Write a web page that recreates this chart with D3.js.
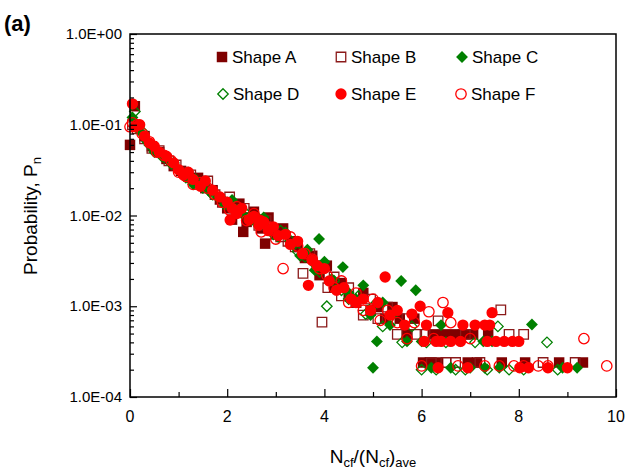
<!DOCTYPE html>
<html><head><meta charset="utf-8">
<script src="https://cdn.jsdelivr.net/npm/d3@7"></script>
<style>body{margin:0;background:#fff}svg{display:block}text{font-family:"Liberation Sans",Arial,sans-serif}</style>
</head><body><svg id="c" width="625" height="471"></svg>
<script>
// ---- data: [N_cf/(N_cf)ave, probability] ----
const shapeA = [[0,0.060],[0.1,0.16],[0.15,0.098],[0.3,0.075],[0.45,0.058],[0.6,0.05],[0.75,0.042],[0.9,0.035],[1.05,0.031],[1.2,0.027],[1.4,0.026],[1.55,0.02],[1.7,0.019],[1.85,0.015],[2.0,0.012],[2.1,0.009],[2.25,0.0135],[2.33,0.0066],[2.4,0.0085],[2.55,0.011],[2.7,0.0072],[2.78,0.0049],[2.85,0.0095],[3.0,0.0062],[3.15,0.0072],[3.3,0.0052],[3.45,0.0045],[3.6,0.0034],[3.75,0.0036],[3.9,0.0022],[4.05,0.0028],[4.2,0.0016],[4.35,0.0018],[4.5,0.0013],[4.65,0.0011],[4.8,0.0014],[4.95,0.0009],[5.1,0.00098],[5.25,0.00073],[5.4,0.00098],[5.55,0.00073],[5.7,0.00049],[5.85,0.00073],[6.03,0.00024],[6.17,0.00024],[6.23,0.00049],[6.34,0.00024],[6.44,0.00049],[6.65,0.00049],[6.85,0.00049],[6.95,0.00024],[7.06,0.00049],[7.14,0.00024],[7.37,0.00049],[7.65,0.00024],[8.13,0.00024],[8.83,0.00024],[9.32,0.00024]];
const shapeB = [[0.05,0.1],[0.15,0.09],[0.3,0.07],[0.45,0.055],[0.6,0.052],[0.8,0.04],[0.95,0.036],[1.1,0.03],[1.25,0.028],[1.4,0.022],[1.6,0.024],[1.75,0.017],[1.9,0.014],[2.05,0.016],[2.2,0.011],[2.35,0.012],[2.5,0.0095],[2.65,0.0078],[2.8,0.0088],[2.95,0.0068],[3.1,0.0058],[3.25,0.0052],[3.4,0.0045],[3.56,0.0023],[3.7,0.0038],[3.85,0.0028],[3.95,0.00067],[4.07,0.0016],[4.2,0.0021],[4.35,0.0013],[4.5,0.0016],[4.65,0.0011],[4.8,0.0008],[4.95,0.0012],[5.1,0.00073],[5.3,0.00098],[5.5,0.00049],[5.7,0.00073],[5.9,0.00049],[6.07,0.00049],[6.2,0.00024],[6.34,0.00069],[6.5,0.00024],[6.7,0.00024],[6.9,0.00049],[7.2,0.00024],[7.63,0.00091],[7.8,0.00049],[8.1,0.00049],[8.5,0.00024],[9.16,0.00024]];
const shapeC = [[0.05,0.12],[0.2,0.085],[0.35,0.065],[0.5,0.05],[0.65,0.045],[0.85,0.037],[1.0,0.032],[1.15,0.026],[1.3,0.022],[1.5,0.02],[1.65,0.018],[1.8,0.016],[1.95,0.013],[2.1,0.0148],[2.3,0.0105],[2.45,0.0088],[2.6,0.0082],[2.75,0.0095],[2.9,0.007],[3.05,0.0058],[3.2,0.0065],[3.35,0.0048],[3.5,0.0036],[3.65,0.0042],[3.89,0.0055],[3.8,0.0025],[4.0,0.0031],[4.15,0.002],[4.38,0.0027],[4.5,0.0014],[4.65,0.0012],[4.8,0.0017],[4.95,0.0008],[5.0,0.00021],[5.08,0.00041],[5.2,0.0011],[5.35,0.00062],[5.58,0.0019],[5.7,0.00041],[5.88,0.0015],[6.0,0.00041],[6.2,0.00021],[6.4,0.00062],[6.6,0.00021],[6.8,0.00041],[7.0,0.00021],[7.27,0.00041],[7.3,0.00021],[7.45,0.00041],[7.6,0.00021],[8.27,0.00063],[8.9,0.00021],[9.2,0.00021]];
const shapeD = [[0.1,0.14],[0.25,0.085],[0.4,0.06],[0.55,0.052],[0.7,0.044],[0.9,0.038],[1.05,0.03],[1.2,0.026],[1.35,0.025],[1.55,0.021],[1.7,0.017],[1.9,0.015],[2.05,0.013],[2.2,0.0115],[2.35,0.011],[2.5,0.0095],[2.65,0.0092],[2.8,0.0075],[2.95,0.0062],[3.1,0.0068],[3.3,0.0053],[3.45,0.004],[3.6,0.0035],[3.75,0.0031],[3.9,0.0024],[4.05,0.001],[4.2,0.0019],[4.35,0.0015],[4.5,0.0012],[4.7,0.0013],[4.85,0.00082],[5.0,0.001],[5.2,0.0006],[5.4,0.0008],[5.6,0.0004],[5.8,0.0006],[6.0,0.0002],[6.1,0.0004],[6.3,0.0002],[6.5,0.0004],[6.7,0.0002],[6.9,0.0002],[7.1,0.0004],[7.35,0.0002],[7.57,0.0006],[7.8,0.0002],[8.1,0.0002],[8.58,0.0004],[8.8,0.0002]];
const shapeE = [[0.05,0.17],[0.1,0.095],[0.2,0.1],[0.3,0.075],[0.4,0.063],[0.5,0.058],[0.6,0.05],[0.75,0.045],[0.9,0.038],[1.0,0.032],[1.1,0.028],[1.2,0.03],[1.3,0.025],[1.45,0.021],[1.55,0.024],[1.7,0.019],[1.85,0.016],[2.0,0.014],[2.06,0.0089],[2.1,0.012],[2.2,0.0105],[2.3,0.012],[2.45,0.009],[2.55,0.0098],[2.67,0.0089],[2.65,0.0078],[2.75,0.0085],[2.85,0.0068],[2.95,0.0075],[3.05,0.006],[3.2,0.0062],[3.3,0.0048],[3.45,0.0052],[3.55,0.0038],[3.67,0.0017],[3.75,0.0032],[3.85,0.0028],[4.0,0.0026],[4.1,0.0019],[4.25,0.0015],[4.4,0.0016],[4.55,0.0012],[4.65,0.0011],[4.8,0.0012],[4.95,0.0009],[5.1,0.0011],[5.25,0.0021],[5.35,0.0008],[5.5,0.0009],[5.65,0.00062],[5.8,0.00082],[5.97,0.001],[6.05,0.00041],[6.1,0.00062],[6.3,0.00041],[6.4,0.00041],[6.54,0.00085],[6.6,0.00041],[6.8,0.00041],[6.85,0.00062],[7.1,0.00062],[7.3,0.00062],[7.4,0.00062],[7.45,0.00085],[7.35,0.00041],[7.53,0.00041],[7.7,0.00041],[7.87,0.00041],[8.0,0.00041],[6.34,0.00021],[6.95,0.00021],[8.02,0.00021],[8.2,0.00021],[8.6,0.00021],[9.0,0.00021]];
const shapeF = [[0.0,0.095],[0.05,0.105],[0.15,0.1],[0.25,0.08],[0.4,0.065],[0.55,0.05],[0.7,0.046],[0.85,0.04],[1.0,0.03],[1.15,0.027],[1.3,0.022],[1.45,0.023],[1.6,0.02],[1.75,0.017],[1.9,0.014],[2.05,0.0115],[2.2,0.0125],[2.4,0.0088],[2.55,0.0105],[2.7,0.0066],[2.85,0.0075],[3.0,0.0055],[3.15,0.0026],[3.3,0.0058],[3.45,0.0046],[3.6,0.0038],[3.75,0.0033],[3.9,0.0026],[4.05,0.0022],[4.2,0.0016],[4.35,0.0019],[4.5,0.0011],[4.65,0.0014],[4.8,0.0009],[5.0,0.0012],[5.15,0.0007],[5.3,0.0009],[5.5,0.00066],[5.7,0.00044],[5.85,0.00066],[6.15,0.00087],[6.44,0.0011],[6.0,0.00022],[6.25,0.00044],[6.6,0.00066],[6.75,0.00022],[7.0,0.00044],[7.3,0.00022],[7.6,0.00022],[7.9,0.00022],[8.1,0.00022],[8.4,0.00022],[8.6,0.00022],[9.34,0.00044],[9.81,0.00022]];
const seriesNames = ["Shape A","Shape B","Shape C","Shape D","Shape E","Shape F"];
const xTicks = [0,2,4,6,8,10];
const yTicks = [1e-4,1e-3,1e-2,1e-1,1];
const yTickLabels = ["1.0E-04","1.0E-03","1.0E-02","1.0E-01","1.0E+00"];

// ---- styles ----
const styles = [
  {sym:d3.symbolSquare, size:110, fill:"#7f0000", stroke:"none"},
  {sym:d3.symbolSquare, size:90, fill:"#fff", stroke:"#8b1a1a"},
  {sym:d3.symbolDiamond2, size:90, fill:"#008000", stroke:"none"},
  {sym:d3.symbolDiamond2, size:70, fill:"#fff", stroke:"#008000"},
  {sym:d3.symbolCircle, size:100, fill:"#ff0000", stroke:"none"},
  {sym:d3.symbolCircle, size:85, fill:"#fff", stroke:"#ff0000"}
];
const data = [shapeA,shapeB,shapeC,shapeD,shapeE,shapeF];

const svg = d3.select("#c");
const L=130,R=616,T=34,B=397;
const x = d3.scaleLinear().domain([0,10]).range([L,R]);
const y = d3.scaleLog().domain([1e-4,1]).range([B,T]);

// points
data.forEach((ser,i)=>{
  const st = styles[i];
  svg.append("g").selectAll("path").data(ser).join("path")
    .attr("d", d3.symbol(st.sym, st.size))
    .attr("transform", d=>`translate(${x(d[0])},${y(d[1])})`)
    .attr("fill", st.fill==="#fff"?"none":st.fill)
    .attr("stroke", st.stroke).attr("stroke-width",1.3);
});

// frame
svg.append("rect").attr("x",L).attr("y",T).attr("width",R-L).attr("height",B-T)
  .attr("fill","none").attr("stroke","#000").attr("stroke-width",1.5);

// y axis
const minor=[];
for(let e=-4;e<0;e++) for(let m=2;m<=9;m++) minor.push(m*Math.pow(10,e));
const yAx = svg.append("g").attr("transform",`translate(${L},0)`);
yAx.call(d3.axisRight(y).tickValues(yTicks).tickSize(7).tickFormat(""));
yAx.append("g").call(d3.axisRight(y).tickValues(minor).tickSize(4).tickFormat(""));
yAx.selectAll(".domain").remove();
yAx.selectAll("line").attr("stroke","#000").attr("stroke-width",1.2);
svg.append("g").selectAll("text").data(yTicks).join("text")
  .attr("x",L-8).attr("y",d=>y(d)+5).attr("text-anchor","end")
  .attr("font-size",15).text((d,i)=>yTickLabels[i]);

// x axis
const xAx = svg.append("g").attr("transform",`translate(0,${B})`);
xAx.call(d3.axisTop(x).tickValues(xTicks).tickSize(8).tickFormat(""));
xAx.append("g").call(d3.axisTop(x).tickValues([1,3,5,7,9]).tickSize(5).tickFormat(""));
xAx.selectAll(".domain").remove();
xAx.selectAll("line").attr("stroke","#000").attr("stroke-width",1.2);
svg.append("g").selectAll("text").data(xTicks).join("text")
  .attr("x",d=>x(d)).attr("y",B+25).attr("text-anchor","middle")
  .attr("font-size",16).text(d=>d);

// axis titles
const xt = svg.append("text").attr("x",373).attr("y",463).attr("text-anchor","middle").attr("font-size",19);
xt.append("tspan").text("N");
xt.append("tspan").attr("font-size",13).attr("dy",4).text("cf");
xt.append("tspan").attr("dy",-4).text("/(N");
xt.append("tspan").attr("font-size",13).attr("dy",4).text("cf");
xt.append("tspan").attr("dy",-4).text(")");
xt.append("tspan").attr("font-size",13).attr("dy",4).text("ave");
const yt = svg.append("text").attr("transform","translate(37,216) rotate(-90)").attr("text-anchor","middle").attr("font-size",19);
yt.append("tspan").text("Probability, P");
yt.append("tspan").attr("font-size",13).attr("dy",4).text("n");

svg.append("text").attr("x",4).attr("y",31).attr("font-size",22).attr("font-weight","bold").text("(a)");

// legend
const legPos = [[222,57],[341,57],[462,57],[223,94],[341,94],[461,94]];
seriesNames.forEach((n,i)=>{
  const st=styles[i];
  svg.append("path").attr("d",d3.symbol(st.sym,st.size)())
    .attr("transform",`translate(${legPos[i][0]},${legPos[i][1]})`)
    .attr("fill", st.fill==="#fff"?"none":st.fill).attr("stroke",st.stroke).attr("stroke-width",1.3);
  svg.append("text").attr("x",legPos[i][0]+10).attr("y",legPos[i][1]+6).attr("font-size",17).text(n);
});
</script></body></html>
